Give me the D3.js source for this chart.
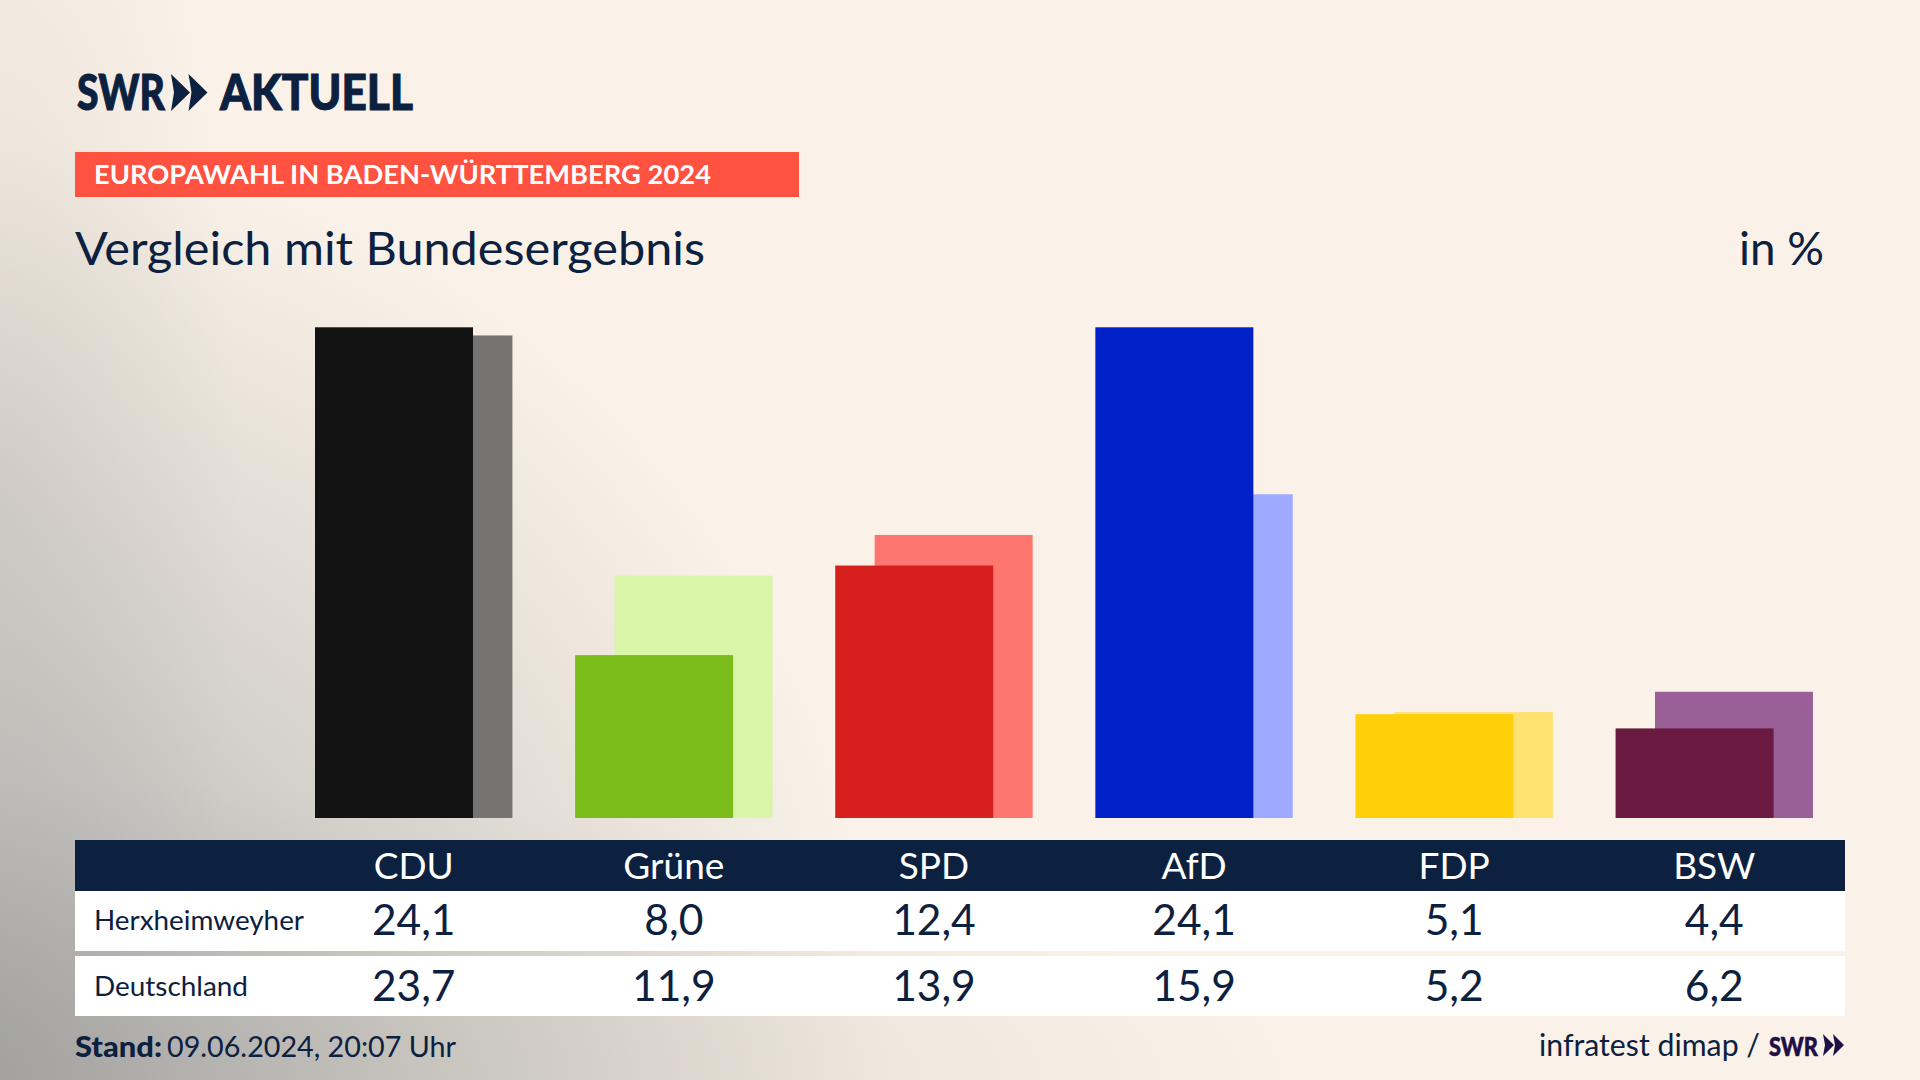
<!DOCTYPE html>
<html lang="de">
<head>
<meta charset="utf-8">
<title>Europawahl in Baden-Württemberg 2024</title>
<script src="https://cdn.jsdelivr.net/npm/d3@7"></script>
<style>
html,body{margin:0;padding:0;background:#FAF2E8;overflow:hidden}
svg{display:block}
text{font-family:Lato,"Noto Sans",sans-serif;fill:#0C2040}
</style>
</head>
<body>
<svg id="chart" width="1920" height="1080"></svg>
<script>
const parties = ["CDU","Grüne","SPD","AfD","FDP","BSW"];
const localValues = [24.1,8.0,12.4,24.1,5.1,4.4];
const nationalValues = [23.7,11.9,13.9,15.9,5.2,6.2];
const frontColors = ["#131313","#7ABD1A","#D71F1E","#0020C8","#FFCF0A","#6A1A41"];
const backColors = ["#757472","#D8F5A8","#FF7570","#9DAAFF","#FFE270","#9A5F97"];
const rowNames = ["Herxheimweyher","Deutschland"];
const fmt = v => v.toFixed(1).replace(".", ",");

const svg = d3.select("#chart");
const navy = "#0C2040";

const defs = svg.append("defs");
const bg = defs.append("radialGradient").attr("id","bg").attr("gradientUnits","userSpaceOnUse")
  .attr("cx",-60).attr("cy",1080).attr("r",950);
[[0,"#A9A9A8"],[0.22,"#BDBCBA"],[0.5,"#D6D2CC"],[0.78,"#EAE4DB"],[1,"#FAF2E8"]]
  .forEach(([o,c]) => bg.append("stop").attr("offset",o).attr("stop-color",c));
function veil(id,cx,cy,rx,ry,op){
  const g = defs.append("radialGradient").attr("id",id).attr("gradientUnits","userSpaceOnUse")
    .attr("cx",0).attr("cy",0).attr("r",1)
    .attr("gradientTransform",`translate(${cx},${cy}) scale(${rx},${ry})`);
  g.append("stop").attr("offset",0).attr("stop-color","#8E8C88").attr("stop-opacity",op);
  g.append("stop").attr("offset",1).attr("stop-color","#8E8C88").attr("stop-opacity",0);
}
veil("veilBottom",0,1080,1300,300,0.32);
veil("veilLeft",0,500,240,800,0.20);
svg.append("rect").attr("width",1920).attr("height",1080).attr("fill","#FAF2E8");
["bg","veilBottom","veilLeft"].forEach(id =>
  svg.append("rect").attr("width",1920).attr("height",1080).attr("fill",`url(#${id})`));

// scales
const x = d3.scaleBand().domain(parties).range([315,1813]).paddingInner(0.241).paddingOuter(0);
const y = d3.scaleLinear().domain([0,24.1]).range([818,327.3]);
const barW = 158, backShift = x.bandwidth() - barW;
const cx = p => x(p) + x.bandwidth()/2;

// bars
svg.append("g").selectAll("rect").data(parties).join("rect")
  .attr("x",p => x(p)+backShift).attr("width",barW)
  .attr("y",(p,i) => y(nationalValues[i])).attr("height",(p,i) => y(0)-y(nationalValues[i]))
  .attr("fill",(p,i) => backColors[i]);
svg.append("g").selectAll("rect").data(parties).join("rect")
  .attr("x",p => x(p)).attr("width",barW)
  .attr("y",(p,i) => y(localValues[i])).attr("height",(p,i) => y(0)-y(localValues[i]))
  .attr("fill",(p,i) => frontColors[i]);

function label(t,xp,yp,size,opt={}){
  const s = svg.append("text").text(t).attr("x",xp).attr("y",yp).attr("font-size",size)
    .attr("text-anchor",opt.anchor||"start").attr("font-weight",opt.weight||400);
  if(opt.len){s.attr("textLength",opt.len).attr("lengthAdjust","spacingAndGlyphs");}
  if(opt.fill){s.style("fill",opt.fill);}
  if(opt.stroke){s.style("stroke",opt.fill||navy).style("stroke-width",opt.stroke);}
  return s;
}

// logo
label("SWR",77,110,49,{weight:900,len:88,stroke:1});
const chev = [0,17.5];
svg.append("g").selectAll("path").data(chev).join("path")
  .attr("d",d => `M${171+d},74 L${190+d},92.5 L${171+d},111 L${174+d},92.5 Z`)
  .attr("fill",navy);
label("AKTUELL",220,110,49,{weight:900,len:193,stroke:1});

// banner
svg.append("rect").attr("x",75).attr("y",152).attr("width",724).attr("height",45).attr("fill","#FF5240");
label("EUROPAWAHL IN BADEN-WÜRTTEMBERG 2024",94,184,27.5,{weight:700,len:617,fill:"#FFFFFF"});

// titles
label("Vergleich mit Bundesergebnis",75,264.5,47,{len:630});
label("in %",1739,264.5,47,{len:85});

// table
svg.append("rect").attr("x",75).attr("y",840).attr("width",1770).attr("height",51).attr("fill",navy);
svg.append("rect").attr("x",75).attr("y",891).attr("width",1770).attr("height",60).attr("fill","#FFFFFF");
svg.append("rect").attr("x",75).attr("y",956).attr("width",1770).attr("height",60).attr("fill","#FFFFFF");

svg.append("g").selectAll("text").data(parties).join("text")
  .text(p => p).attr("x",cx).attr("y",878.5).attr("font-size",37)
  .attr("text-anchor","middle").style("fill","#FFFFFF");

[localValues,nationalValues].forEach((vals,r) => {
  svg.append("g").selectAll("text").data(parties).join("text")
    .text((p,i) => fmt(vals[i])).attr("x",cx).attr("y",r ? 1001 : 935).attr("font-size",42.5)
    .attr("text-anchor","middle");
});
label(rowNames[0],94,929.5,27,{len:210});
label(rowNames[1],94,995.5,27,{len:154});

// footer
label("Stand:",75,1057,29,{weight:900,len:87});
label("09.06.2024, 20:07 Uhr",167,1057,29,{len:289});
label("infratest dimap /",1539,1056,30,{len:221});
label("SWR",1769,1056,27,{weight:900,len:49,fill:"#1E0F45",stroke:0.6});
svg.append("g").selectAll("path").data([0,10]).join("path")
  .attr("d",d => `M${1823+d},1034 L${1834+d},1045 L${1823+d},1056 L${1825+d},1045 Z`)
  .attr("fill","#1E0F45");
</script>
</body>
</html>
